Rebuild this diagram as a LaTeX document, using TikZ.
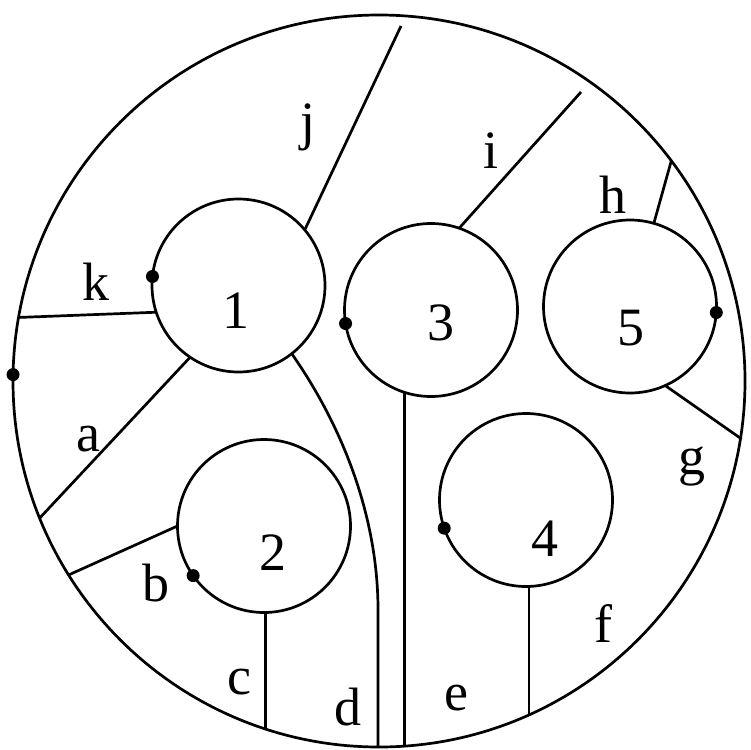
\documentclass[tikz,border=0pt]{standalone}
\usepackage{fontspec}
\setmainfont{Liberation Serif}
\begin{document}
\begin{tikzpicture}[x=1pt,y=-1pt,
  ring/.style={draw,circle,line width=2.7pt,inner sep=0pt,outer sep=0pt,minimum size=173pt},
  edge/.style={line width=2.7pt},
  dot/.style={circle,fill,inner sep=0pt,minimum size=13pt},
  lab/.style={font=\fontsize{54}{60}\selectfont,inner sep=0pt,anchor=base}]
\useasboundingbox (0,0) rectangle (751,749);
% outer circle
\node[ring,minimum size=732pt] (outer) at (379,381) {};
% inner circles
\node[ring] (c1) at (238.5,285.5) {};
\node[ring] (c2) at (264,526) {};
\node[ring] (c3) at (431,310) {};
\node[ring] (c4) at (526,500) {};
\node[ring] (c5) at (630,306.5) {};
% free ends
\coordinate (jend) at (401,26);
\coordinate (iend) at (581,92);
\coordinate (dbend) at (378,610);
% connectors
\draw[edge] (outer.170.8) -- (c1.198.2);            % k
\draw[edge] (c1.236.4) -- (outer.202.3);            % a
\draw[edge] (outer.212.3) -- (c2.180.7);            % b
\draw[edge] (c2.271.3) -- (c2.271.3 |- outer.252);  % c
\draw[edge] (c1.308.1) .. controls (345,430) and (378,520) .. (dbend) -- (dbend |- outer.south); % d
\draw[edge] (c3.252.6) -- (c3.252.6 |- outer.274.1); % e
\draw[edge] (c4.272) -- (c4.272 |- outer.294.2);    % f
\draw[edge] (c5.294.7) -- (outer.351.2);            % g
\draw[edge] (c5.74.4) -- (outer.37.6);              % h
\draw[edge] (c3.71.4) -- (iend);                    % i
\draw[edge] (c1.40.9) -- (jend);                    % j
% dots
\node[dot] (d0) at (outer.179.4) {};
\node[dot] (d1) at (c1.174.4) {};
\node[dot] (d2) at (c2.215.5) {};
\node[dot] (d3) at (c3.189.8) {};
\node[dot] (d4) at (c4.199) {};
\node[dot] (d5) at (c5.356.4) {};
% circle numbers
\node[lab] (n1) at (236,328) {1};
\node[lab] (n2) at (273,570) {2};
\node[lab] (n3) at (441,340) {3};
\node[lab] (n4) at (544.5,556) {4};
\node[lab] (n5) at (631,345) {5};
% edge letters
\node[lab] (la) at (88,451) {a};
\node[lab] (lb) at (155.6,601) {b};
\node[lab] (lc) at (239.5,694) {c};
\node[lab] (ld) at (347.5,725) {d};
\node[lab] (le) at (456.7,710) {e};
\node[lab] (lf) at (603,642) {f};
\node[lab] (lg) at (691.7,474) {g};
\node[lab] (lh) at (613,213) {h};
\node[lab] (li) at (491,168) {i};
\node[lab] (lj) at (307.5,139) {j};
\node[lab] (lk) at (96,300) {k};
\end{tikzpicture}
\end{document}
